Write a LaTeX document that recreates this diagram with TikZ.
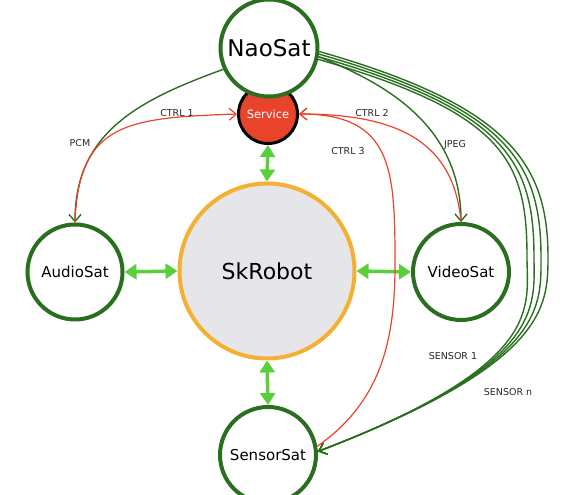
\documentclass[tikz,border=0pt]{standalone}
\usepackage{fontspec}
\setmainfont{DejaVu Sans}
\usetikzlibrary{arrows.meta}
\definecolor{satgreen}{HTML}{2A6F1F}
\definecolor{linkgreen}{HTML}{5ACF3C}
\definecolor{ctrlred}{HTML}{E8432B}
\definecolor{robotfill}{HTML}{E6E6EA}
\definecolor{robotedge}{HTML}{F4B032}
\tikzset{sat/.style={circle,draw=satgreen,line width=4pt,fill=white,minimum size=96pt,inner sep=0pt,font=\fontsize{15}{18}\selectfont},
  link/.style={linkgreen,line width=3.5pt,{Triangle[length=12pt,width=15pt]}-{Triangle[length=12pt,width=15pt]}},
  data/.style={satgreen,line width=1.4pt,-{Straight Barb[length=7pt,width=12pt]}},
  ctrl/.style={ctrlred,line width=1.2pt,-{Straight Barb[length=7pt,width=12pt]}},
  lbl/.style={font=\fontsize{9.5}{11}\selectfont,text=black!85}}

\begin{document}
\begin{tikzpicture}[x=1pt,y=1pt]
            \useasboundingbox (0,0) rectangle (568,495);
            % 节点
            \node[circle,draw=black,line width=3pt,fill=ctrlred,minimum size=59pt,inner sep=0pt,text=white,font=\fontsize{11.5}{13}\selectfont] (service) at (268,381) {Service};
            \node[sat,font=\fontsize{23}{26}\selectfont,minimum size=97pt] (nao) at (269,447) {NaoSat};
            \node[circle,draw=robotedge,line width=4pt,fill=robotfill,minimum size=175pt,inner sep=0pt,font=\fontsize{22}{26}\selectfont] (sky) at (267,224) {SkRobot};
            \node[sat,minimum size=95pt] (audio) at (75,223) {AudioSat};
            \node[sat] (video) at (461,223) {VideoSat};
            \node[sat] (sensor) at (268,40) {SensorSat};
            % 绿色双向箭头
            \draw[link] (service.south)--(sky.north);
            \draw[link] (audio.east)--(sky.west);
            \draw[link] (sky.east)--(video.west);
            \draw[link] (sky.south)--(sensor.north);
            % 数据流
            \draw[data] (nao.205) .. controls +(200:90) and +(90:90) .. (audio.north);
            \draw[data] (nao.-10) .. controls +(-22:65) and +(90:100) .. (video.north);
            \foreach \a/\x in {-4/548,-7/541,-10/534,-13/527}
                \draw[data] (nao.\a) .. controls +(-16:195) and +(0,95) .. (\x,238) .. controls +(0,-50) and +(21:245) .. (sensor.4);
            % 控制流
            \draw[ctrl] (audio.north) .. controls +(88:100) and +(182:110) .. (service.west);
            \draw[ctrl] (video.north) .. controls +(95:80) and +(0:100) .. (service.east);
            \draw[ctrl] (sensor.10) to[out=35,in=-90] (395,230) to[out=90,in=0,looseness=1.35] (service.east);
            % 标签
            \node[lbl] (lpcm) at (80,352) {PCM};
            \node[lbl] (lctrla) at (177,382) {CTRL 1};
            \node[lbl] (lctrlb) at (372,382) {CTRL 2};
            \node[lbl] (lctrlc) at (348,344) {CTRL 3};
            \node[lbl] (ljpeg) at (455,350) {JPEG};
            \node[lbl] (lsensa) at (453,139) {SENSOR 1};
            \node[lbl] (lsensn) at (508,103) {SENSOR n};
\end{tikzpicture}
\end{document}
